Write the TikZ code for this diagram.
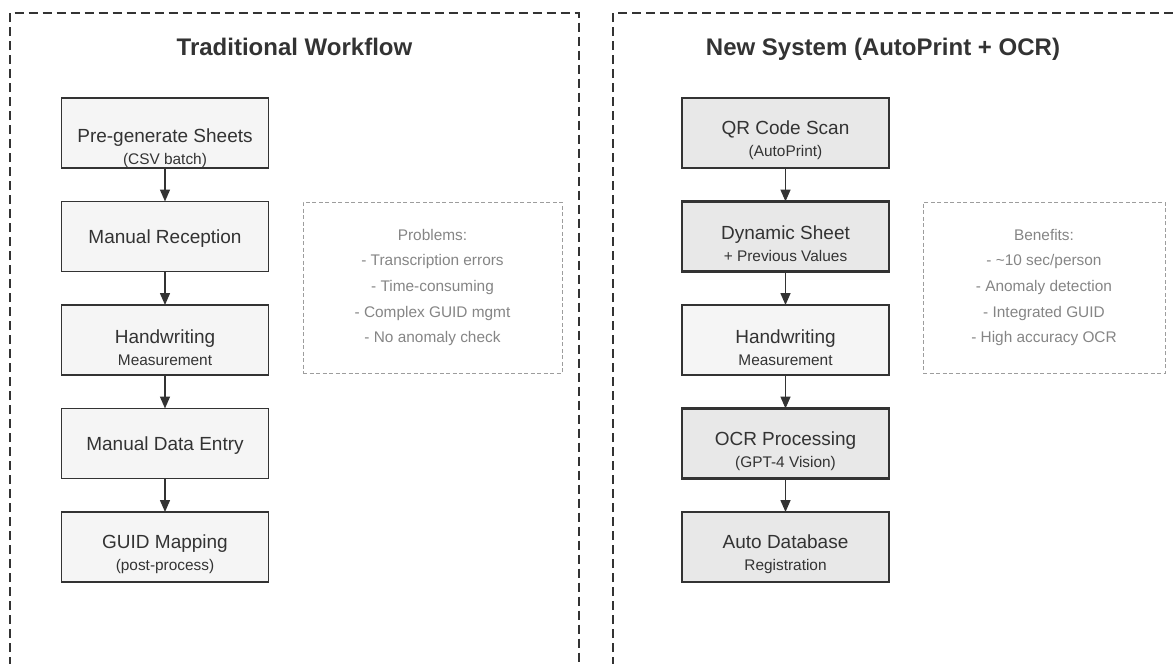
\documentclass[tikz,border=0pt]{standalone}
\usepackage{fontspec}
\setmainfont{Liberation Sans}
\usetikzlibrary{
	arrows.meta,
	positioning
}

\definecolor{edgegray}{HTML}{333333}
\definecolor{textgray}{HTML}{333333}
\definecolor{notegray}{HTML}{858585}
\definecolor{lightfill}{HTML}{F5F5F5}
\definecolor{darkfill}{HTML}{E8E8E8}

\newcommand{\subline}[1]{{\fontsize{15.4}{18}\selectfont #1}}
\newcommand{\dropheight}{51pt}

\begin{document}
\begin{tikzpicture}[
			x=1pt, y=-1pt,
			node distance = 33.5pt,
			TextDrop/.code={\renewcommand{\dropheight}{#1}},
			StepStyle/.style={draw=edgegray, line width=1.3pt, fill=lightfill, text=textgray,
				minimum width=207pt, minimum height=70pt, inner sep=0pt, outer sep=0pt,
				align=center, font=\fontsize{19}{22}\selectfont,
				execute at begin node={\rule{0pt}{\dropheight}}},
			AutoStyle/.style={StepStyle, fill=darkfill, line width=2.5pt},
			NoteStyle/.style={draw=notegray!80, line width=1pt, dash pattern=on 4pt off 2.5pt,
				minimum height=171pt, inner sep=0pt, align=center, text=notegray,
				font=\fontsize{15.4}{25.7}\selectfont},
			PanelStyle/.style={draw=edgegray, line width=1.8pt, dash pattern=on 9pt off 5pt},
			TitleStyle/.style={text=textgray, anchor=base, font=\fontsize{24}{28}\selectfont\bfseries},
			FlowStyle/.style={draw=edgegray, line width=1.5pt, -{Triangle[length=12pt, width=10pt]}}]
	\useasboundingbox (0,0) rectangle (1176,664);
	% the two panels, cut off at the page border
	\draw [PanelStyle] (9.6,680) -- (9.6,13) -- (579,13) -- (579,680);
	\draw [PanelStyle] (613,680) -- (613,13) -- (1190,13);
	\node [TitleStyle] (ttitle) at (294.5,55.5) {Traditional Workflow};
	\node [TitleStyle] (ntitle) at (883,55.5) {New System (AutoPrint + OCR)};

	% traditional workflow
	\node [StepStyle, TextDrop=66pt] (t1) at (165,133) {Pre-generate Sheets\\\subline{(CSV batch)}};
	\node [StepStyle, below=of t1, TextDrop=18pt] (t2) {Manual Reception};
	\node [StepStyle, below=of t2] (t3) {Handwriting\\\subline{Measurement}};
	\node [StepStyle, below=of t3, TextDrop=18pt] (t4) {Manual Data Entry};
	\node [StepStyle, below=of t4] (t5) {GUID Mapping\\\subline{(post-process)}};
	\draw [FlowStyle] (t1) -- (t2);
	\draw [FlowStyle] (t2) -- (t3);
	\draw [FlowStyle] (t3) -- (t4);
	\draw [FlowStyle] (t4) -- (t5);
	\node [NoteStyle, minimum width=259pt] (problems) at (432.5,287.5)
		{Problems:\\- Transcription errors\\- Time-consuming\\- Complex GUID mgmt\\- No anomaly check};

	% new system
	\node [AutoStyle] (n1) at (785.5,133) {QR Code Scan\\\subline{(AutoPrint)}};
	\node [AutoStyle, below=of n1] (n2) {Dynamic Sheet\\\subline{+ Previous Values}};
	\node [StepStyle, below=of n2] (n3) {Handwriting\\\subline{Measurement}};
	\node [AutoStyle, below=of n3] (n4) {OCR Processing\\\subline{(GPT-4 Vision)}};
	\node [AutoStyle, below=of n4] (n5) {Auto Database\\\subline{Registration}};
	\draw [FlowStyle] (n1) -- (n2);
	\draw [FlowStyle] (n2) -- (n3);
	\draw [FlowStyle] (n3) -- (n4);
	\draw [FlowStyle] (n4) -- (n5);
	\node [NoteStyle, minimum width=242pt] (benefits) at (1044,287.5)
		{Benefits:\\- \textasciitilde 10 sec/person\\- Anomaly detection\\- Integrated GUID\\- High accuracy OCR};
\end{tikzpicture}
\end{document}
